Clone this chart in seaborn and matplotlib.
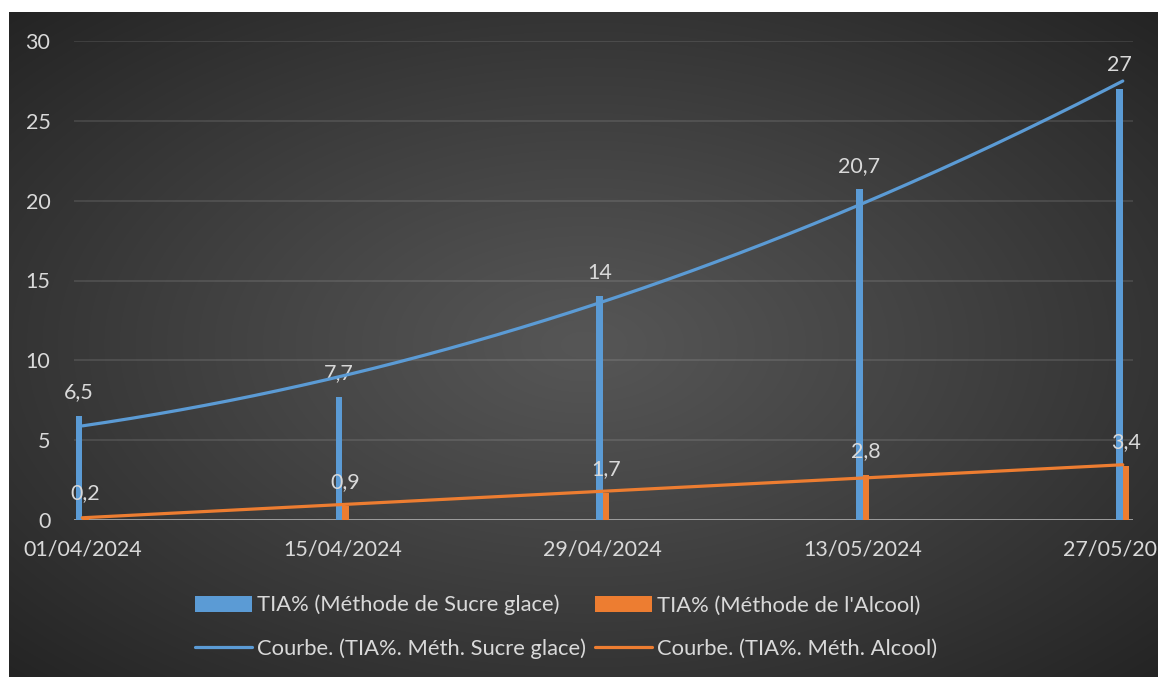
import numpy as np
import pandas as pd
import matplotlib
matplotlib.use("Agg")
import matplotlib.pyplot as plt
from matplotlib.patches import Patch
from matplotlib.lines import Line2D
import seaborn as sns

# ---- data ----
dates = ["01/04/2024", "15/04/2024", "29/04/2024", "13/05/2024", "27/05/2024"]
days = [0, 14, 28, 42, 56]
sucre = [6.5, 7.7, 14, 20.7, 27]
alcool = [0.2, 0.9, 1.7, 2.8, 3.4]
bar_names = ["TIA% (Méthode de Sucre glace)", "TIA% (Méthode de l'Alcool)"]
trend_names = ["Courbe. (TIA%. Méth. Sucre glace)", "Courbe. (TIA%. Méth. Alcool)"]
yticks = [0, 5, 10, 15, 20, 25, 30]

BLUE = "#5B9BD5"
ORANGE = "#ED7D31"
TXT = "#D9D9D9"

sns.set_style("white")
plt.rcParams["font.family"] = ["Lato", "DejaVu Sans"]

W, H = 1158, 677
fig = plt.figure(figsize=(W / 100, H / 100), dpi=100, facecolor="white")

# background radial gradient
bg = fig.add_axes([9 / W, 0, (W - 9) / W, (H - 12) / H])
gh, gw = 665, 1149
yy, xx = np.mgrid[0:gh, 0:gw]
cx, cy = gw * 0.50, gh * 0.50
d = np.sqrt(((xx - cx) / (gw / 2)) ** 2 + ((yy - cy) / (gh / 2)) ** 2) / np.sqrt(2)
val = (0x56 - (0x56 - 0x24) * np.clip(d, 0, 1) ** 1.1) / 255.0
img = np.dstack([val, val, val])
bg.imshow(img, aspect="auto", extent=[0, 1, 0, 1], origin="upper")
bg.set_axis_off()

left, right = 74 / W, 1133 / W
bottom, top = 1 - 520 / H, 1 - 41 / H
ax = fig.add_axes([left, bottom, right - left, top - bottom])
ax.set_facecolor("none")

df = pd.DataFrame({
    "day": days * 2,
    "value": sucre + alcool,
    "series": [bar_names[0]] * len(days) + [bar_names[1]] * len(days),
})
sns.barplot(data=df, x="day", y="value", hue="series", native_scale=True,
            palette=[BLUE, ORANGE], width=0.7 / 14, dodge=True, errorbar=None,
            legend=False, ax=ax, zorder=3, linewidth=0, saturation=1)

# trend lines
xs = np.linspace(min(days), max(days), 300)
cb = np.polyfit(days, sucre, 2)
co = np.polyfit(days, alcool, 1)
sns.lineplot(x=xs, y=np.polyval(cb, xs), color=BLUE, linewidth=2.3, ax=ax, zorder=5)
sns.lineplot(x=xs, y=np.polyval(co, xs), color=ORANGE, linewidth=2.3, ax=ax, zorder=5)

# data labels
for cont, vals in zip(ax.containers, [sucre, alcool]):
    ax.bar_label(cont, labels=[f"{v:g}".replace(".", ",") for v in vals],
                 padding=10, color=TXT, fontsize=15.5, zorder=4)

ax.set_xlim(-0.45, 56.55)
ax.set_ylim(0, 30)
ax.set_yticks(yticks)
ax.set_yticklabels([str(t) for t in yticks], color=TXT, fontsize=15.5)
ax.set_xticks(days)
ax.set_xticklabels(dates, color=TXT, fontsize=15.5)
ax.tick_params(axis="y", length=0, pad=17)
ax.tick_params(axis="x", length=0, pad=14)
for y in yticks[1:]:
    ax.axhline(y, color="white", alpha=0.12, linewidth=1.2, zorder=1)
ax.axhline(0, color="#A6A6A6", linewidth=2, zorder=2)
for s in ax.spines.values():
    s.set_visible(False)
ax.set_xlabel("")
ax.set_ylabel("")

handles = [Patch(facecolor=BLUE, edgecolor="none"),
           Line2D([0], [0], color=BLUE, linewidth=2.3),
           Patch(facecolor=ORANGE, edgecolor="none"),
           Line2D([0], [0], color=ORANGE, linewidth=2.3)]
labels = [bar_names[0], trend_names[0], bar_names[1], trend_names[1]]
leg = fig.legend(handles, labels, ncol=2, loc="center",
                 bbox_to_anchor=(566 / W, 1 - 627 / H), frameon=False,
                 fontsize=15.8, handlelength=2.6, handleheight=0.75,
                 handletextpad=0.25, columnspacing=0.4, labelspacing=1.05)
for t in leg.get_texts():
    t.set_color(TXT)

fig.savefig("out.png", dpi=100, facecolor="white")
